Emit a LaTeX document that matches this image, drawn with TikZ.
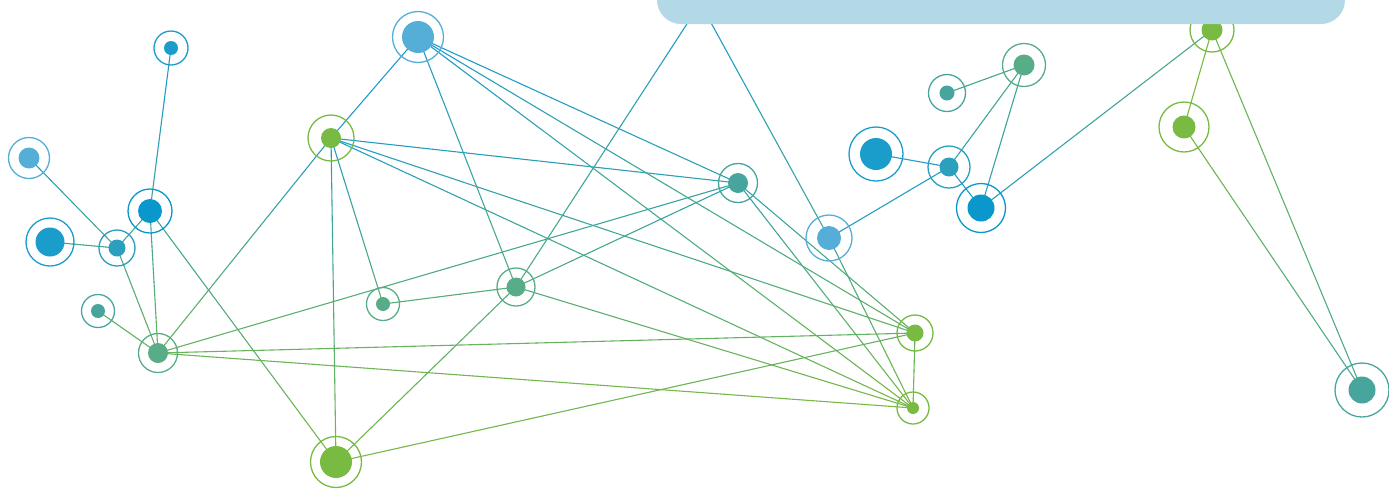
\documentclass[tikz,border=0pt]{standalone}
\usetikzlibrary{calc}
\definecolor{cblue}{HTML}{1C9AD0}
\definecolor{cgreen}{HTML}{7AB942}
\definecolor{bannerc}{HTML}{B3D8E6}
\pgfdeclarelayer{edges}
\pgfsetlayers{edges,main}
\tikzset{
  dot/.style={circle, inner sep=0pt, draw=none},
  ring/.style={line width=1.3pt},
  edge/.style={line width=1.1pt, line cap=round},
  banner/.style={fill=bannerc}
}
% gradient segment edge: node a, node b, percent green at a, at b
\newcommand\gseg[4]{%
  \foreach \k in {0,...,11}{%
    \pgfmathsetmacro\tA{\k/12}%
    \pgfmathsetmacro\tB{(\k+1)/12}%
    \pgfmathsetmacro\pc{#3+(\k+0.5)/12*(#4-(#3))}%
    \draw[edge, color=cgreen!\pc!cblue] ($(#1)!\tA!(#2)$) -- ($(#1)!\tB!(#2)$);
  }}
% edge coloured by height
\newcommand\gedge[2]{%
  \pgfpointanchor{#1}{center}\pgfgetlastxy{\gxa}{\gya}%
  \pgfpointanchor{#2}{center}\pgfgetlastxy{\gxb}{\gyb}%
  \pgfmathsetmacro\gpa{max(0,min(100,(-1*(\gya)-120)/2.8))}%
  \pgfmathsetmacro\gpb{max(0,min(100,(-1*(\gyb)-120)/2.8))}%
  \gseg{#1}{#2}{\gpa}{\gpb}}
\newcommand\nnode[5]{%
  \node[dot, fill=#3, minimum size=#4] (#1) at (#2) {};
  \draw[ring, color=#3] (#1.center) circle[radius=#5];}
\begin{document}
\begin{tikzpicture}[x=1pt,y=-1pt]
\useasboundingbox (0,0) rectangle (1389,488);
\definecolor{nA}{HTML}{1A9DCB}
\definecolor{nLB}{HTML}{55AED8}
\definecolor{nB}{HTML}{0A98CC}
\definecolor{nBT}{HTML}{2A9FBE}
\definecolor{nT}{HTML}{48A59E}
\definecolor{nTG}{HTML}{58AD88}
\definecolor{nG}{HTML}{78BA42}
% nodes
\nnode{A}{171,48}{nA}{14pt}{17pt}
\nnode{B}{418,37}{nLB}{32pt}{25.5pt}
\nnode{C}{29,158}{nLB}{21pt}{20.5pt}
\nnode{D}{150,211}{nB}{24pt}{22pt}
\nnode{E}{50,242}{nA}{29pt}{24pt}
\nnode{F}{117,248}{nBT}{17pt}{18pt}
\nnode{G}{98,311}{nT}{14pt}{16.5pt}
\nnode{H}{158,353}{nTG}{20pt}{19.5pt}
\nnode{I}{331,138}{nG}{20pt}{23pt}
\nnode{J}{383,304}{nTG}{14pt}{16.5pt}
\nnode{K}{336,462}{nG}{32pt}{25.5pt}
\nnode{L}{516,287}{nTG}{19pt}{19pt}
\nnode{M}{738,183}{nT}{20pt}{19.5pt}
\nnode{N}{829,238}{nLB}{24pt}{23pt}
\nnode{O}{915,333}{nG}{17pt}{18pt}
\nnode{P}{913,408}{nG}{12pt}{16pt}
\nnode{Q}{876,154}{nA}{32pt}{27pt}
\nnode{R}{947,93}{nT}{15pt}{18.5pt}
\nnode{S}{1024,65}{nTG}{21pt}{21.5pt}
\nnode{T}{949,167}{nBT}{19pt}{21pt}
\nnode{U}{981,208}{nB}{27pt}{24.5pt}
\nnode{V}{1212,30}{nG}{21pt}{22pt}
\nnode{W}{1184,127}{nG}{23pt}{25pt}
\nnode{X}{1362,390}{nT}{27pt}{27pt}
\coordinate (bt1) at (696,10);
\coordinate (bt2) at (704,10);
% edges
\begin{pgfonlayer}{edges}
\gedge{A}{D}\gedge{C}{F}\gedge{E}{F}\gedge{F}{D}\gedge{F}{H}
\gedge{D}{H}\gedge{G}{H}\gedge{D}{K}
\gedge{H}{I}\gedge{H}{M}\gedge{H}{O}\gedge{H}{P}
\gedge{I}{B}\gedge{I}{K}\gedge{I}{J}\gedge{I}{M}\gedge{I}{O}\gedge{I}{P}
\gedge{B}{L}\gedge{B}{M}\gedge{B}{O}\gedge{B}{P}
\gedge{J}{L}\gedge{L}{K}\gedge{L}{M}\gedge{L}{P}
\gedge{bt1}{L}\gedge{bt2}{N}\gedge{N}{P}
\gedge{K}{O}\gedge{M}{O}\gedge{M}{P}\gedge{O}{P}
\gseg{N}{T}{8}{12}
\gseg{Q}{T}{8}{12}
\gseg{T}{U}{12}{8}
\gseg{T}{S}{25}{50}
\gseg{S}{U}{45}{20}
\gseg{R}{S}{45}{50}
\gseg{U}{V}{12}{55}
\gseg{V}{W}{100}{100}
\gseg{V}{X}{95}{45}
\gseg{W}{X}{95}{45}
\end{pgfonlayer}
% banner
\fill[banner, rounded corners=24pt] (657,-40) rectangle (1345,24);
\end{tikzpicture}
\end{document}
